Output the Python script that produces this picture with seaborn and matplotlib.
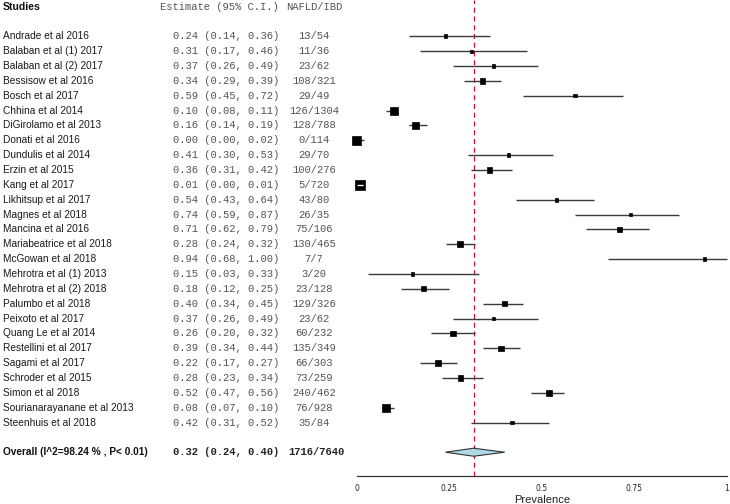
import numpy as np
import pandas as pd
import matplotlib
matplotlib.use("Agg")
import matplotlib.pyplot as plt
import matplotlib.transforms as mtransforms
from matplotlib.patches import Polygon
import seaborn as sns

studies = ["Andrade et al 2016", "Balaban et al (1) 2017", "Balaban et al (2) 2017",
           "Bessisow et al 2016", "Bosch et al 2017", "Chhina et al 2014",
           "DiGirolamo et al 2013", "Donati et al 2016", "Dundulis et al 2014",
           "Erzin et al 2015", "Kang et al 2017", "Likhitsup et al 2017",
           "Magnes et al 2018", "Mancina et al 2016", "Mariabeatrice et al 2018",
           "McGowan et al 2018", "Mehrotra et al (1) 2013", "Mehrotra et al (2) 2018",
           "Palumbo et al 2018", "Peixoto et al 2017", "Quang Le et al 2014",
           "Restellini et al 2017", "Sagami et al 2017", "Schroder et al 2015",
           "Simon et al 2018", "Sourianarayanane et al 2013", "Steenhuis et al 2018"]
estimate = [0.24, 0.31, 0.37, 0.34, 0.59, 0.10, 0.16, 0.00, 0.41, 0.36, 0.01, 0.54, 0.74, 0.71,
            0.28, 0.94, 0.15, 0.18, 0.40, 0.37, 0.26, 0.39, 0.22, 0.28, 0.52, 0.08, 0.42]
ci_low = [0.14, 0.17, 0.26, 0.29, 0.45, 0.08, 0.14, 0.00, 0.30, 0.31, 0.00, 0.43, 0.59, 0.62,
          0.24, 0.68, 0.03, 0.12, 0.34, 0.26, 0.20, 0.34, 0.17, 0.23, 0.47, 0.07, 0.31]
ci_high = [0.36, 0.46, 0.49, 0.39, 0.72, 0.11, 0.19, 0.02, 0.53, 0.42, 0.01, 0.64, 0.87, 0.79,
           0.32, 1.00, 0.33, 0.25, 0.45, 0.49, 0.32, 0.44, 0.27, 0.34, 0.56, 0.10, 0.52]
events = [13, 11, 23, 108, 29, 126, 128, 0, 29, 100, 5, 43, 26, 75, 130, 7, 3, 23, 129, 23, 60,
          135, 66, 73, 240, 76, 35]
totals = [54, 36, 62, 321, 49, 1304, 788, 114, 70, 276, 720, 80, 35, 106, 465, 7, 20, 128, 326,
          62, 232, 349, 303, 259, 462, 928, 84]

overall_label = "Overall (I^2=98.24 % , P< 0.01)"
overall_est, overall_low, overall_high = 0.316, 0.24, 0.40
overall_text = "0.32 (0.24, 0.40)"
overall_counts = "1716/7640"

df = pd.DataFrame({"study": studies, "est": estimate, "lo": ci_low, "hi": ci_high,
                   "events": events, "n": totals})
df["row"] = np.arange(len(df))
# box size from inverse variance of the proportion
p = (df["events"] + 0.5) / (df["n"] + 1)
var = p * (1 - p) / (df["n"] + 1)
side_px = (1.1 * np.log(1 / var) - 2.6).clip(3.2, 10.0)
df["area"] = (side_px * 0.72) ** 2

sns.set_style("white")
fig = plt.figure(figsize=(7.3, 5.04), dpi=100)
ax = fig.add_axes([356.7 / 730, 28 / 504, 370 / 730, 476 / 504])

top_row = -2.44
bottom_row = 29.6
ax.set_xlim(0, 1)
ax.set_ylim(bottom_row, top_row)

ax.axvline(overall_est, color="#b2182b", lw=0.9, ls=(0, (4, 3)), zorder=1)
ax.hlines(df["row"], df["lo"], df["hi"], color="#3a3a3a", lw=1.0, zorder=2, clip_on=False)
sns.scatterplot(data=df, x="est", y="row", size="area",
                sizes=(df["area"].min(), df["area"].max()), marker="s",
                color="black", edgecolor="black", linewidth=0.5, legend=False,
                ax=ax, zorder=3, clip_on=False)
# CI that sits inside its box is drawn white on top
inside = (df["hi"] - df["lo"]) * 370 < side_px - 2
ax.hlines(df.loc[inside, "row"], df.loc[inside, "est"] - 0.008, df.loc[inside, "est"] + 0.008,
          color="white", lw=1.0, zorder=4, clip_on=False)

overall_row = 28
h = 0.27
diamond = Polygon([(overall_low, overall_row), (overall_est, overall_row - h),
                   (overall_high, overall_row), (overall_est, overall_row + h)],
                  closed=True, facecolor="lightblue", edgecolor="#333333", lw=0.8, zorder=3)
ax.add_patch(diamond)

# text columns
tr = mtransforms.blended_transform_factory(fig.transFigure, ax.transData)
sans = "Liberation Sans"
mono = "Liberation Mono"
x_name, x_est, x_cnt = 3 / 730, 279 / 730, 314 / 730
ax.text(x_name, -2, "Studies", transform=tr, family=sans, fontsize=7.6, fontweight="bold",
        va="center", ha="left", color="#111111")
ax.text(x_est, -2, "Estimate (95% C.I.)", transform=tr, family=mono, fontsize=7.6,
        va="center", ha="right", color="#555555")
ax.text(x_cnt, -2, "NAFLD/IBD", transform=tr, family=mono, fontsize=7.6,
        va="center", ha="center", color="#555555")
for _, r in df.iterrows():
    ax.text(x_name, r["row"], r["study"], transform=tr, family=sans, fontsize=7.3,
            va="center", ha="left", color="#1a1a1a")
    ax.text(x_est, r["row"], f"{r['est']:.2f} ({r['lo']:.2f}, {r['hi']:.2f})", transform=tr,
            family=mono, fontsize=7.6, va="center", ha="right", color="#555555")
    ax.text(x_cnt, r["row"], f"{r['events']}/{r['n']}", transform=tr, family=mono,
            fontsize=7.6, va="center", ha="center", color="#555555")
ax.text(x_name, overall_row, overall_label, transform=tr, family=sans, fontsize=7.3,
        fontweight="bold", va="center", ha="left", color="#111111")
ax.text(x_est, overall_row, overall_text, transform=tr, family=mono, fontsize=7.6,
        fontweight="bold", va="center", ha="right", color="#222222")
ax.text(x_cnt + 2 / 730, overall_row, overall_counts, transform=tr, family=mono, fontsize=7.6,
        fontweight="bold", va="center", ha="center", color="#222222")

for s in ["top", "left", "right"]:
    ax.spines[s].set_visible(False)
ax.spines["bottom"].set_color("#333333")
ax.spines["bottom"].set_linewidth(0.9)
ax.set_yticks([])
ax.set_xticks([0, 0.25, 0.5, 0.75, 1])
ax.set_xticklabels(["0", "0.25", "0.5", "0.75", "1"])
ax.tick_params(axis="x", direction="out", length=3, width=0.8, color="#333333",
               labelsize=5.5, pad=3, labelcolor="#222222")
ax.set_ylabel("")
ax.set_xlabel("Prevalence", family=sans, fontsize=8, labelpad=1, color="#222222")

fig.savefig("out.png", dpi=100)
